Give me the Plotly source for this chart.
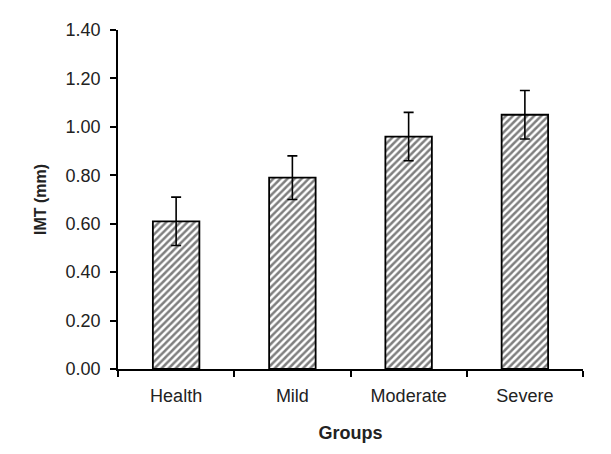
import plotly.graph_objects as go

categories = ["Health", "Mild", "Moderate", "Severe"]
imt_mean = [0.61, 0.79, 0.96, 1.05]
imt_err = [0.10, 0.09, 0.10, 0.10]
y_ticks = [0.0, 0.2, 0.4, 0.6, 0.8, 1.0, 1.2, 1.4]
y_tick_labels = ["0.00", "0.20", "0.40", "0.60", "0.80", "1.00", "1.20", "1.40"]

fig = go.Figure()
fig.add_trace(go.Bar(
    x=categories, y=imt_mean, width=0.4,
    marker=dict(color="white", line=dict(color="black", width=1.8),
                pattern=dict(shape="/", fgcolor="black", bgcolor="white", size=5, solidity=0.5)),
    error_y=dict(type="data", array=imt_err, visible=True, color="black", thickness=1.6, width=5),
))

font_family = "Liberation Sans, Arial, sans-serif"
fig.update_layout(
    width=595, height=438,
    margin=dict(l=110, r=20, t=22, b=77),
    paper_bgcolor="white", plot_bgcolor="white",
    showlegend=False, bargap=0.6,
    font=dict(family=font_family, size=18, color="#222"),
)
fig.update_xaxes(
    automargin=False,
    showline=True, linecolor="black", linewidth=1.8,
    ticks="outside", tickson="boundaries", ticklen=6, tickwidth=1.8, tickcolor="black",
    showgrid=False, ticklabelstandoff=9,
    title=dict(text="<b>Groups</b>", font=dict(size=18), standoff=22),
)
fig.update_yaxes(
    automargin=False,
    range=[0, 1.4], tickvals=y_ticks, ticktext=y_tick_labels,
    showline=True, linecolor="black", linewidth=1.8,
    ticks="outside", ticklen=6, tickwidth=1.8, tickcolor="black",
    showgrid=False, zeroline=False, ticklabelstandoff=6,
    title=dict(text="<b>IMT (mm)</b>", font=dict(size=16), standoff=15),
)
fig.write_html("out.html")
